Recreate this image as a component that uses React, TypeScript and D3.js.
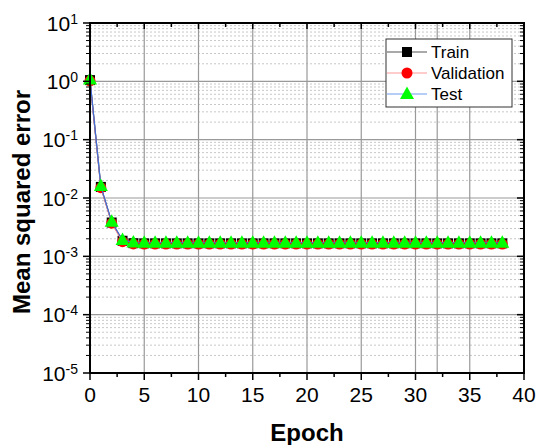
import React from 'react'
import * as d3 from 'd3'

// chart values
const epochs = [0, 1, 2, 3, 4, 5, 6, 7, 8, 9, 10, 11, 12, 13, 14, 15, 16, 17, 18, 19, 20, 21, 22, 23, 24, 25, 26, 27, 28, 29, 30, 31, 32, 33, 34, 35, 36, 37, 38]
const trainMse = [1.05, 0.0155, 0.0038, 0.00185, 0.00168, 0.00167, 0.00167, 0.00167, 0.00167, 0.00167, 0.00167, 0.00167, 0.00167, 0.00167, 0.00167, 0.00167, 0.00167, 0.00167, 0.00167, 0.00167, 0.00167, 0.00167, 0.00167, 0.00167, 0.00167, 0.00167, 0.00167, 0.00167, 0.00167, 0.00167, 0.00167, 0.00167, 0.00167, 0.00167, 0.00167, 0.00167, 0.00167, 0.00167, 0.00167]
const validMse = [1.02, 0.0150, 0.0037, 0.00178, 0.00163, 0.00162, 0.00162, 0.00162, 0.00162, 0.00162, 0.00162, 0.00162, 0.00162, 0.00162, 0.00162, 0.00162, 0.00162, 0.00162, 0.00162, 0.00162, 0.00162, 0.00162, 0.00162, 0.00162, 0.00162, 0.00162, 0.00162, 0.00162, 0.00162, 0.00162, 0.00162, 0.00162, 0.00162, 0.00162, 0.00162, 0.00162, 0.00162, 0.00162, 0.00162]
const testMse = [1.08, 0.0160, 0.0039, 0.00190, 0.00172, 0.00171, 0.00171, 0.00171, 0.00171, 0.00171, 0.00171, 0.00171, 0.00171, 0.00171, 0.00171, 0.00171, 0.00171, 0.00171, 0.00171, 0.00171, 0.00171, 0.00171, 0.00171, 0.00171, 0.00171, 0.00171, 0.00171, 0.00171, 0.00171, 0.00171, 0.00171, 0.00171, 0.00171, 0.00171, 0.00171, 0.00171, 0.00171, 0.00171, 0.00171]
const xTicks = [0, 5, 10, 15, 20, 25, 30, 35, 40]
const xMinorTicks = [2.5, 7.5, 12.5, 17.5, 22.5, 27.5, 32.5, 37.5]
const yExponents = [1, 0, -1, -2, -3, -4, -5]
const bestEpoch = 32

const W = 536
const H = 445
const M = {left: 90, right: 12, top: 23, bottom: 72}
const FONT = 'Liberation Sans, Arial, sans-serif'

/* Component */
function App() {
  const x = d3.scaleLinear().domain([0, 40]).range([M.left, W - M.right])
  const y = d3.scaleLog().domain([1e-5, 10]).range([H - M.bottom, M.top])
  const x0 = M.left
  const x1 = W - M.right
  const y0 = H - M.bottom
  const y1 = M.top

  // minor positions 2..9 in every decade
  const minorY: number[] = []
  yExponents.slice(0, -1).forEach((e) => {
    for (let k = 2; k <= 9; k++) minorY.push(k * Math.pow(10, e - 1))
  })

  const line = d3
    .line<number>()
    .x((d, i) => x(epochs[i]))
    .y((d) => y(d))

  const series = [
    {name: 'Train', values: trainMse, color: '#000000', legendLine: '#555555', shape: 'square'},
    {name: 'Validation', values: validMse, color: '#ff8a8a', legendLine: '#ff9a9a', shape: 'circle'},
    {name: 'Test', values: testMse, color: '#3f6fd8', legendLine: '#6e9ef0', shape: 'triangle'},
  ]

  const marker = (shape: string, cx: number, cy: number, key: any) => {
    if (shape === 'square')
      return <rect key={key} x={cx - 5} y={cy - 5} width={10} height={10} fill="#000" />
    if (shape === 'circle') return <circle key={key} cx={cx} cy={cy} r={5.5} fill="#ff0000" />
    return <path key={key} d={`M${cx},${cy - 7.5}L${cx + 7},${cy + 5}L${cx - 7},${cy + 5}Z`} fill="#00ff00" />
  }

  const lgX = 386
  const lgY = 39

  return (
    <svg width={W} height={H} style={{position: 'absolute', left: 0, top: 0, background: '#fff'}} fontFamily={FONT}>
      {/* minor horizontal grid */}
      {minorY.map((v, i) => (
        <line key={'mg' + i} x1={x0} x2={x1} y1={y(v)} y2={y(v)} stroke="#c8c8c8" strokeWidth={1} strokeDasharray="2,2" />
      ))}
      {/* major grid */}
      {yExponents.slice(1, -1).map((e) => (
        <line key={'gy' + e} x1={x0} x2={x1} y1={y(Math.pow(10, e))} y2={y(Math.pow(10, e))} stroke="#999" strokeWidth={1.2} />
      ))}
      {xTicks.slice(1, -1).map((t) => (
        <line key={'gx' + t} x1={x(t)} x2={x(t)} y1={y0} y2={y1} stroke="#999" strokeWidth={1.2} />
      ))}
      <line x1={x(bestEpoch)} x2={x(bestEpoch)} y1={y0} y2={y1} stroke="#999" strokeWidth={1.2} />

      {/* series */}
      {series.map((s) => (
        <g key={s.name}>
          <path d={line(s.values) || ''} fill="none" stroke={s.color} strokeWidth={1.2} />
          {s.values.map((v, i) => marker(s.shape, x(epochs[i]), y(v), i))}
        </g>
      ))}

      {/* frame */}
      <rect x={x0} y={y1} width={x1 - x0} height={y0 - y1} fill="none" stroke="#000" strokeWidth={2} />

      {/* x ticks */}
      {xTicks.map((t) => (
        <g key={'xt' + t}>
          <line x1={x(t)} x2={x(t)} y1={y0} y2={y0 + 7} stroke="#000" strokeWidth={1.5} />
          <line x1={x(t)} x2={x(t)} y1={y1} y2={y1 + 6} stroke="#000" strokeWidth={1.5} />
          <text x={x(t)} y={y0 + 29} textAnchor="middle" fontSize={21} fill="#000">
            {t}
          </text>
        </g>
      ))}
      {xMinorTicks.map((t) => (
        <g key={'xm' + t}>
          <line x1={x(t)} x2={x(t)} y1={y0} y2={y0 + 4} stroke="#000" strokeWidth={1.5} />
          <line x1={x(t)} x2={x(t)} y1={y1} y2={y1 + 4} stroke="#000" strokeWidth={1.5} />
        </g>
      ))}

      {/* y ticks */}
      {yExponents.map((e) => {
        const yy = y(Math.pow(10, e))
        return (
          <g key={'yt' + e}>
            <line x1={x0 - 7} x2={x0} y1={yy} y2={yy} stroke="#000" strokeWidth={1.5} />
            <line x1={x1 - 7} x2={x1} y1={yy} y2={yy} stroke="#000" strokeWidth={1.5} />
            <text x={78} y={yy + 7.5} textAnchor="end" fontSize={21} fill="#000">
              10
              <tspan dy={-7} fontSize={14}>
                {e < 0 ? '-' + Math.abs(e) : e}
              </tspan>
            </text>
          </g>
        )
      })}
      {minorY.map((v, i) => (
        <g key={'ym' + i}>
          <line x1={x0 - 4} x2={x0} y1={y(v)} y2={y(v)} stroke="#000" strokeWidth={1} />
          <line x1={x1 - 4} x2={x1} y1={y(v)} y2={y(v)} stroke="#000" strokeWidth={1} />
        </g>
      ))}

      {/* axis titles */}
      <text x={307} y={441} textAnchor="middle" fontSize={24} fontWeight="bold" fill="#000">
        Epoch
      </text>
      <text transform={`translate(30,202) rotate(-90)`} textAnchor="middle" fontSize={24} fontWeight="bold" fill="#000">
        Mean squared error
      </text>

      {/* legend */}
      <rect x={lgX} y={lgY} width={126} height={68} fill="#fff" stroke="#333" strokeWidth={1} />
      {series.map((s, i) => {
        const ly = lgY + 13 + i * 21
        return (
          <g key={'lg' + s.name}>
            <line x1={lgX + 1} x2={lgX + 41} y1={ly} y2={ly} stroke={s.legendLine} strokeWidth={1.2} />
            {marker(s.shape, lgX + 21, ly, 'm')}
            <text x={lgX + 45} y={ly + 6} fontSize={17} fill="#000">
              {s.name}
            </text>
          </g>
        )
      })}
    </svg>
  )
}
export default App
